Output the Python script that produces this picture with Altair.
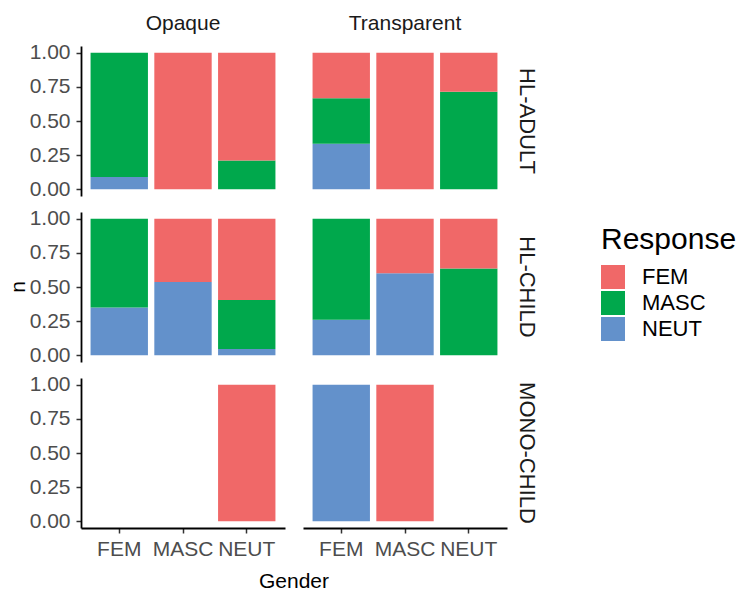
import altair as alt
import pandas as pd

# ---- data ----
groups = ["HL-ADULT"] * 5 + ["HL-ADULT"] * 5 + ["HL-CHILD"] * 7 + ["HL-CHILD"] * 5 + ["MONO-CHILD"] * 1 + ["MONO-CHILD"] * 2
conditions = (["Opaque"] * 5 + ["Transparent"] * 5 + ["Opaque"] * 7 + ["Transparent"] * 5
              + ["Opaque"] * 1 + ["Transparent"] * 2)
genders = ["FEM", "FEM", "MASC", "NEUT", "NEUT",
           "FEM", "FEM", "FEM", "MASC", "NEUT",
           "FEM", "FEM", "MASC", "MASC", "NEUT", "NEUT", "NEUT",
           "FEM", "FEM", "MASC", "MASC", "NEUT",
           "NEUT",
           "FEM", "MASC"]
responses = ["NEUT", "MASC", "FEM", "MASC", "FEM",
             "NEUT", "MASC", "FEM", "FEM", "MASC",
             "NEUT", "MASC", "NEUT", "FEM", "NEUT", "MASC", "FEM",
             "NEUT", "MASC", "NEUT", "FEM", "MASC",
             "FEM",
             "NEUT", "FEM"]
values = [0.09, 0.91, 1.0, 0.21, 0.79,
          0.333, 0.333, 0.334, 1.0, 0.714,
          0.35, 0.65, 0.536, 0.464, 0.045, 0.36, 0.595,
          0.26, 0.74, 0.60, 0.40, 0.636,
          1.0,
          1.0, 1.0]
# FEM remainder of HL-ADULT Transparent NEUT and HL-CHILD Transparent NEUT
groups += ["HL-ADULT", "HL-CHILD"]
conditions += ["Transparent", "Transparent"]
genders += ["NEUT", "NEUT"]
responses += ["FEM", "FEM"]
values += [0.286, 0.364]

gender_levels = ["FEM", "MASC", "NEUT"]
response_levels = ["FEM", "MASC", "NEUT"]
response_colors = ["#F06868", "#00A84C", "#6391CB"]
stack_rank = {"NEUT": 0, "MASC": 1, "FEM": 2}

df = pd.DataFrame({"Group": groups, "Condition": conditions, "Gender": genders,
                   "Response": responses, "n": values})
df["ord"] = df["Response"].map(stack_rank)

FONT = "Liberation Sans"

base = alt.Chart(df).mark_bar().encode(
    x=alt.X("Gender:N", sort=gender_levels,
            scale=alt.Scale(domain=gender_levels, paddingInner=0.1, paddingOuter=0.15),
            axis=alt.Axis(title=None, labelAngle=0, labelPadding=5)),
    y=alt.Y("n:Q", stack="zero",
            scale=alt.Scale(domain=[-0.05, 1.05], nice=False, zero=False),
            axis=alt.Axis(values=[0, 0.25, 0.5, 0.75, 1], format=".2f", title=None, labelPadding=6)),
    color=alt.Color("Response:N",
                    scale=alt.Scale(domain=response_levels, range=response_colors),
                    legend=alt.Legend(title="Response", symbolType="square", symbolSize=576,
                                      symbolStrokeWidth=0, rowPadding=2,
                                      titleFontSize=30, titleFontWeight="normal",
                                      labelFontSize=22, titlePadding=10, labelOffset=17,
                                      orient="none", legendX=520, legendY=179)),
    order=alt.Order("ord:Q", sort="ascending"),
).properties(width=204, height=150)

chart = base.facet(
    row=alt.Row("Group:N", header=alt.Header(title="n", titleOrient="left", titleAngle=-90,
                                             titleFontSize=21, titleFontWeight="normal",
                                             titleFont=FONT, titleColor="black", titlePadding=-31,
                                             labelAngle=90, labelOrient="right",
                                             labelFontSize=22, labelFont=FONT, labelColor="#1A1A1A",
                                             labelPadding=8)),
    column=alt.Column("Condition:N", header=alt.Header(title="Gender", titleOrient="bottom",
                                                       titleFontSize=21, titleFontWeight="normal",
                                                       titleFont=FONT, titleColor="black",
                                                       titlePadding=2,
                                                       labelFontSize=21, labelFont=FONT,
                                                       labelColor="#1A1A1A", labelPadding=12)),
    spacing={"row": 16, "column": 18},
).configure(font=FONT, background="white",
            padding={"left": 0, "top": 5, "right": 0, "bottom": 0}
).configure_view(stroke=None
).configure_axis(
    grid=False, domainColor="black", domainWidth=1.8, tickColor="#333333", tickWidth=1.5,
    tickSize=5, labelColor="#4D4D4D", labelFontSize=21, labelFont=FONT,
).configure_legend(labelFont=FONT, titleFont=FONT, titleColor="black", labelColor="black")

chart.save("out.html", embed_options={"renderer": "svg", "actions": False})
